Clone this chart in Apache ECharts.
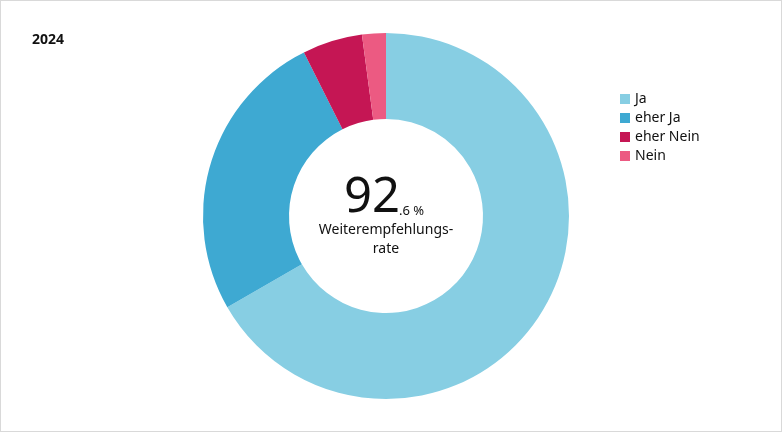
<!DOCTYPE html>
<html><head><meta charset="utf-8">
<script src="https://cdn.jsdelivr.net/npm/echarts@6/dist/echarts.min.js"></script>
<style>html,body{margin:0;padding:0;background:#fff}#c{width:782px;height:432px;box-sizing:border-box;border:1px solid #d9d9d9}</style>
</head><body><div id="c"></div>
<script>
const categories = ['Ja', 'eher Ja', 'eher Nein', 'Nein'];
const values = [66.7, 25.9, 5.3, 2.1];
const colors = ['#87CEE3', '#3EA9D2', '#C51654', '#EC5A82'];
const yearLabel = '2024';
const rateMain = '92';
const rateDecimal = '.6 %';
const rateLabel = ['Weiterempfehlungs-', 'rate'];
const FONT = '"Noto Sans", "Open Sans", sans-serif';

const chart = echarts.init(document.getElementById('c'), null, {renderer: 'canvas'});
chart.setOption({
  animation: false,
  color: colors,
  title: {text: yearLabel, left: 26, top: 27, textStyle: {fontFamily: FONT, fontSize: 14, fontWeight: 'bold', color: '#111'}},
  legend: {
    orient: 'vertical', left: 614, top: 86, itemWidth: 10, itemHeight: 10, itemGap: 5,
    icon: 'rect', data: categories,
    textStyle: {fontFamily: FONT, fontSize: 14, color: '#111'}
  },
  series: [{
    type: 'pie', center: [385, 215], radius: [97, 183], startAngle: 90, clockwise: true,
    label: {show: false}, labelLine: {show: false}, silent: true,
    data: categories.map((c, i) => ({name: c, value: values[i]}))
  }],
  graphic: [
    {type: 'text', left: 343, top: 173, style: {text: rateMain, font: '49px ' + FONT, fill: '#111'}},
    {type: 'text', left: 398, top: 204, style: {text: rateDecimal, font: '13px ' + FONT, fill: '#111'}},
    {type: 'text', x: 385, y: 222, style: {text: rateLabel[0], font: '14px ' + FONT, fill: '#111', align: 'center'}},
    {type: 'text', x: 385, y: 241, style: {text: rateLabel[1], font: '14px ' + FONT, fill: '#111', align: 'center'}}
  ]
});
</script></body></html>
